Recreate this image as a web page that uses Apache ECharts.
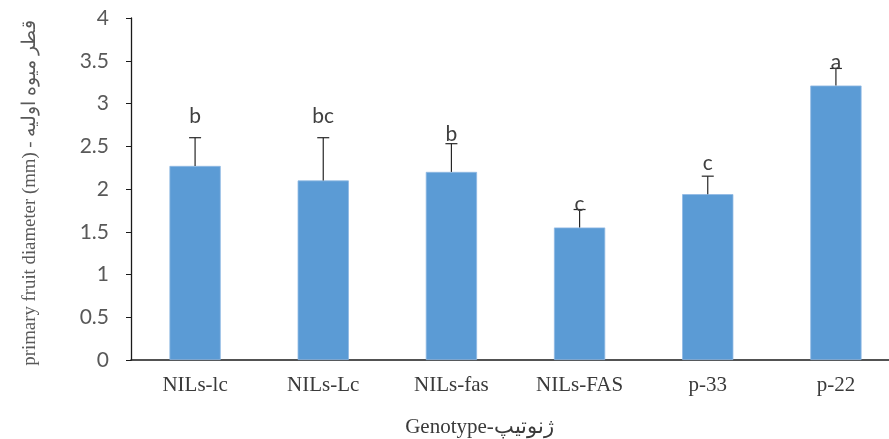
<!DOCTYPE html>
<html>
<head>
<meta charset="utf-8">
<script src="https://cdn.jsdelivr.net/npm/echarts@6/dist/echarts.min.js"></script>
<style>
html,body{margin:0;padding:0;background:#fff;}
#chart{width:889px;height:439px;}
</style>
</head>
<body>
<div id="chart"></div>
<script>
const categories = ['NILs-lc', 'NILs-Lc', 'NILs-fas', 'NILs-FAS', 'p-33', 'p-22'];
const means = [2.27, 2.10, 2.20, 1.55, 1.94, 3.21];
const errors = [0.33, 0.50, 0.33, 0.21, 0.21, 0.20];
const letters = ['b', 'bc', 'b', 'c', 'c', 'a'];
const letterValues = [2.77, 2.78, 2.57, 1.75, 2.22, 3.41];
const yTicks = [0, 0.5, 1, 1.5, 2, 2.5, 3, 3.5, 4];

const chart = echarts.init(document.getElementById('chart'), null, {renderer: 'canvas'});

const errData = categories.map((c, i) => [i, means[i], means[i] + errors[i], letters[i], letterValues[i]]);

chart.setOption({
  animation: false,
  backgroundColor: '#ffffff',
  grid: {left: 131, top: 18, bottom: 79, right: -11, containLabel: false, outerBoundsMode: 'none'},
  xAxis: {
    type: 'category',
    data: categories,
    axisLine: {lineStyle: {color: '#1a1a1a', width: 1.5}},
    axisTick: {show: false},
    axisLabel: {color: '#3a3a3a', fontFamily: 'Liberation Serif', fontSize: 21, margin: 15},
    name: 'Genotype-ژنوتیپ',
    nameLocation: 'middle',
    nameGap: 57,
    nameTextStyle: {color: '#3a3a3a', fontFamily: 'Liberation Serif', fontSize: 21, padding: [0, 72, 0, 0]}
  },
  yAxis: {
    type: 'value',
    min: yTicks[0],
    max: yTicks[yTicks.length - 1],
    interval: yTicks[1] - yTicks[0],
    splitLine: {show: false},
    axisLine: {show: true, lineStyle: {color: '#1a1a1a', width: 1.3}},
    axisTick: {show: true, length: 5, lineStyle: {color: '#1a1a1a'}},
    axisLabel: {color: '#595959', fontFamily: 'Lato', fontSize: 21, margin: 22},
    name: 'primary fruit diameter (mm) - قطر میوه اولیه',
    nameLocation: 'middle',
    nameGap: 91,
    nameRotate: 90,
    nameTextStyle: {color: '#595959', fontFamily: 'Liberation Serif', fontSize: 18.8, padding: [0, 8, 0, 0]}
  },
  series: [
    {
      type: 'bar',
      data: means,
      barWidth: '40%',
      itemStyle: {color: '#5b9bd5', borderColor: '#8fb9e3', borderWidth: 0.8}
    },
    {
      type: 'custom',
      data: errData,
      encode: {x: 0, y: [1, 2]},
      z: 5,
      renderItem: function (params, api) {
        const idx = api.value(0);
        const base = api.coord([idx, api.value(1)]);
        const top = api.coord([idx, api.value(2)]);
        const lab = api.coord([idx, errData[params.dataIndex][4]]);
        const half = 6;
        return {
          type: 'group',
          children: [
            {type: 'line', shape: {x1: base[0], y1: base[1], x2: top[0], y2: top[1]}, style: {stroke: '#262626', lineWidth: 1.2}},
            {type: 'line', shape: {x1: top[0] - half, y1: top[1], x2: top[0] + half, y2: top[1]}, style: {stroke: '#262626', lineWidth: 1.2}},
            {type: 'text', x: lab[0], y: lab[1] + 4, style: {text: errData[params.dataIndex][3], fill: '#404040', font: '21px Lato', textAlign: 'center', textVerticalAlign: 'bottom'}}
          ]
        };
      }
    }
  ]
});
</script>
</body>
</html>
